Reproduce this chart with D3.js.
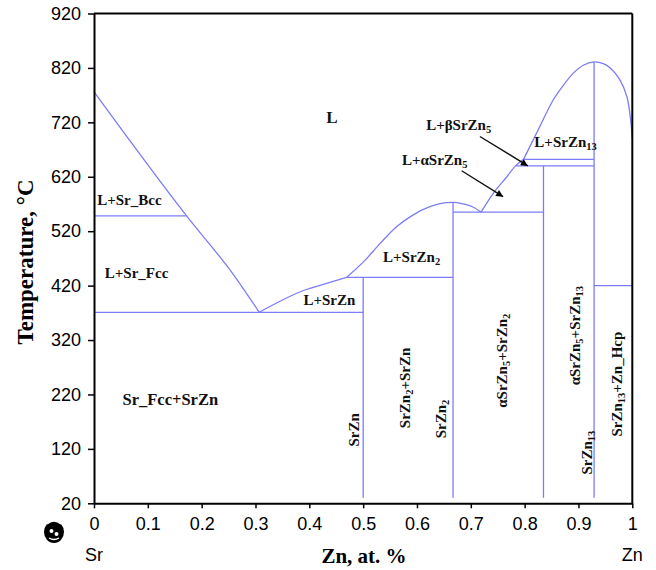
<!DOCTYPE html>
<html>
<head>
<meta charset="utf-8">
<script src="https://cdn.jsdelivr.net/npm/d3@7"></script>
<style>
  html, body { margin: 0; padding: 0; background: #fff; }
  svg { display: block; }
</style>
</head>
<body>
<svg id="chart" width="656" height="570"></svg>
<script>
// ---------------- DATA ----------------
const xTicks = [0, 0.1, 0.2, 0.3, 0.4, 0.5, 0.6, 0.7, 0.8, 0.9, 1];
const xTickLabels = ["0", "0.1", "0.2", "0.3", "0.4", "0.5", "0.6", "0.7", "0.8", "0.9", "1"];
const yTicks = [20, 120, 220, 320, 420, 520, 620, 720, 820, 920];

// Liquidus curves [x (Zn fraction), T (°C)]
const liquidusSr = [[0, 776], [0.172, 548], [0.26, 439], [0.307, 371]];
const liquidusSrZn = [[0.307, 371], [0.339, 388], [0.389, 411], [0.432, 424], [0.469, 435]];
const liquidusSrZn2 = [[0.469, 435], [0.501, 464], [0.532, 498], [0.562, 528], [0.593, 550], [0.624, 565], [0.655, 572.5], [0.668, 573], [0.686, 570], [0.705, 564], [0.719, 555]];
const liquidusSrZn5 = [[0.719, 555], [0.742, 590], [0.767, 620], [0.783, 640], [0.798, 652]];
const liquidusSrZn13 = [[0.798, 652], [0.822, 700], [0.853, 761], [0.866, 780], [0.890, 810], [0.909, 825], [0.929, 831], [0.946, 828], [0.959, 820], [0.977, 798], [0.990, 767], [0.997, 724], [1.0, 691]];

// Isotherms [x1, x2, T]
const isotherms = [
  [0, 0.172, 548],
  [0, 0.5, 371],
  [0.469, 0.667, 435],
  [0.667, 0.835, 555],
  [0.783, 0.929, 640],
  [0.798, 0.929, 652],
  [0.929, 1.0, 420]
];

// Compound lines [x, Tlow, Thigh]
const compounds = [
  [0.5, 30, 435],
  [0.667, 30, 573],
  [0.835, 30, 640],
  [0.929, 30, 831]
];

// Horizontal region labels: [x, T, parts, size, anchor]
const hLabels = [
  [0.442, 719, [["L", 0]], 17, "middle"],
  [0.006, 568, [["L+Sr_Bcc", 0]], 15, "start"],
  [0.020, 434, [["L+Sr_Fcc", 0]], 15, "start"],
  [0.053, 201, [["Sr_Fcc+SrZn", 0]], 16.5, "start"],
  [0.389, 384, [["L+SrZn", 0]], 15, "start"],
  [0.537, 464, [["L+SrZn", 0], ["2", 1]], 15, "start"],
  [0.617, 706, [["L+βSrZn", 0], ["5", 1]], 15, "start"],
  [0.572, 642, [["L+αSrZn", 0], ["5", 1]], 15, "start"],
  [0.818, 675, [["L+SrZn", 0], ["13", 1]], 15, "start"]
];

// Vertical (rotated) labels: [x, T, parts]
const vLabels = [
  [0.482, 155, [["SrZn", 0]]],
  [0.578, 232, [["SrZn", 0], ["2", 1], ["+SrZn", 0]]],
  [0.644, 175, [["SrZn", 0], ["2", 1]]],
  [0.757, 282, [["αSrZn", 0], ["5", 1], ["+SrZn", 0], ["2", 1]]],
  [0.894, 328, [["αSrZn", 0], ["5", 1], ["+SrZn", 0], ["13", 1]]],
  [0.915, 113, [["SrZn", 0], ["13", 1]]],
  [0.971, 239, [["SrZn", 0], ["13", 1], ["+Zn_Hcp", 0]]]
];

// Arrows [x1, T1, x2, T2]
const arrows = [
  [0.717, 694, 0.806, 640],
  [0.683, 631, 0.760, 583.5]
];

// ---------------- DRAW ----------------
const svg = d3.select("#chart");
const x = d3.scaleLinear().domain([0, 1]).range([94, 632.3]);
const y = d3.scaleLinear().domain([20, 920]).range([503.3, 13.5]);
const lineColor = "#7c7cf8";

svg.append("defs").append("marker")
  .attr("id", "ah").attr("viewBox", "0 0 10 10").attr("refX", 10).attr("refY", 5)
  .attr("markerWidth", 9).attr("markerHeight", 7).attr("markerUnits", "userSpaceOnUse")
  .attr("orient", "auto")
  .append("path").attr("d", "M0,0 L10,5 L0,10 z").attr("fill", "#000");

const line = d3.line().x(d => x(d[0])).y(d => y(d[1])).curve(d3.curveMonotoneX);
const plot = svg.append("g");

[liquidusSr, liquidusSrZn, liquidusSrZn2, liquidusSrZn5].forEach(c => {
  plot.append("path").attr("d", line(c)).attr("fill", "none")
    .attr("stroke", lineColor).attr("stroke-width", 1.3);
});
plot.append("path").attr("d", d3.line().x(d => x(d[0])).y(d => y(d[1])).curve(d3.curveCatmullRom)(liquidusSrZn13))
  .attr("fill", "none").attr("stroke", lineColor).attr("stroke-width", 1.3);

plot.selectAll(".iso").data(isotherms).enter().append("line")
  .attr("x1", d => x(d[0])).attr("x2", d => x(d[1]))
  .attr("y1", d => y(d[2])).attr("y2", d => y(d[2]))
  .attr("stroke", lineColor).attr("stroke-width", 1.3);

plot.selectAll(".cmp").data(compounds).enter().append("line")
  .attr("x1", d => x(d[0])).attr("x2", d => x(d[0]))
  .attr("y1", d => y(d[1])).attr("y2", d => y(d[2]))
  .attr("stroke", lineColor).attr("stroke-width", 1.3);

// arrows
plot.selectAll(".arr").data(arrows).enter().append("line")
  .attr("x1", d => x(d[0])).attr("y1", d => y(d[1]))
  .attr("x2", d => x(d[2])).attr("y2", d => y(d[3]))
  .attr("stroke", "#111").attr("stroke-width", 1.4)
  .attr("marker-end", "url(#ah)");

const serif = "'Liberation Serif','Times New Roman',serif";
function addParts(t, parts) {
  parts.forEach(p => {
    const ts = t.append("tspan").text(p[0]);
    if (p[1]) ts.attr("baseline-shift", "-28%").attr("font-size", "70%");
  });
}

hLabels.forEach(d => {
  const t = svg.append("text")
    .attr("x", x(d[0])).attr("y", y(d[1]))
    .attr("font-family", serif).attr("font-weight", "bold")
    .attr("font-size", d[3]).attr("text-anchor", d[4]).attr("fill", "#111");
  addParts(t, d[2]);
});

vLabels.forEach(d => {
  const t = svg.append("text")
    .attr("transform", `translate(${x(d[0])},${y(d[1])}) rotate(-90)`)
    .attr("dy", "0.35em")
    .attr("font-family", serif).attr("font-weight", "bold")
    .attr("font-size", 15).attr("text-anchor", "middle").attr("fill", "#111");
  addParts(t, d[2]);
});

// Axes
const sans = "'Liberation Sans', Arial, sans-serif";
const xAxis = svg.append("g").attr("transform", `translate(0,${y(20)})`)
  .call(d3.axisBottom(x).tickValues(xTicks).tickFormat((d, i) => xTickLabels[i]).tickSize(5).tickPadding(9).tickSizeOuter(0));
const yAxis = svg.append("g").attr("transform", `translate(${x(0)},0)`)
  .call(d3.axisLeft(y).tickValues(yTicks).tickFormat(d3.format("d")).tickSize(6).tickPadding(7).tickSizeOuter(0));
[xAxis, yAxis].forEach(a => {
  a.select(".domain").attr("stroke", "#000").attr("stroke-width", 2);
  a.selectAll(".tick line").attr("stroke", "#000").attr("stroke-width", 1.5);
  a.selectAll(".tick text").attr("font-family", sans).attr("font-size", 18).attr("fill", "#000");
});

// frame top & right
svg.append("line").attr("x1", x(0)).attr("x2", x(1)).attr("y1", y(920)).attr("y2", y(920))
  .attr("stroke", "#000").attr("stroke-width", 2);
svg.append("line").attr("x1", x(1)).attr("x2", x(1)).attr("y1", y(920)).attr("y2", y(20))
  .attr("stroke", "#000").attr("stroke-width", 2);

// Axis titles
svg.append("text").attr("x", 364).attr("y", 563)
  .attr("font-family", serif).attr("font-weight", "bold").attr("font-size", 21)
  .attr("text-anchor", "middle").text("Zn, at. %");
svg.append("text").attr("transform", "translate(33,262) rotate(-90)")
  .attr("font-family", serif).attr("font-weight", "bold").attr("font-size", 23)
  .attr("text-anchor", "middle").text("Temperature, °C");

// end element labels
svg.append("text").attr("x", x(0)).attr("y", 561).attr("font-family", sans)
  .attr("font-size", 18).attr("text-anchor", "middle").text("Sr");
svg.append("text").attr("x", x(1)).attr("y", 561).attr("font-family", sans)
  .attr("font-size", 18).attr("text-anchor", "middle").text("Zn");

// small logo mark at bottom-left
const logo = svg.append("g").attr("transform", "translate(54,532)");
logo.append("ellipse").attr("rx", 10).attr("ry", 11).attr("fill", "#000");
logo.append("path").attr("d", "M-7,-8 Q0,-14 7,-8").attr("stroke", "#fff").attr("stroke-width", 1.3).attr("fill", "none");
logo.append("circle").attr("cx", -2.5).attr("cy", -1).attr("r", 2).attr("fill", "#fff");
logo.append("circle").attr("cx", 2.5).attr("cy", 2).attr("r", 2).attr("fill", "#fff");
logo.append("path").attr("d", "M-5,6 Q0,9 5,6").attr("stroke", "#fff").attr("stroke-width", 1.3).attr("fill", "none");
</script>
</body>
</html>
